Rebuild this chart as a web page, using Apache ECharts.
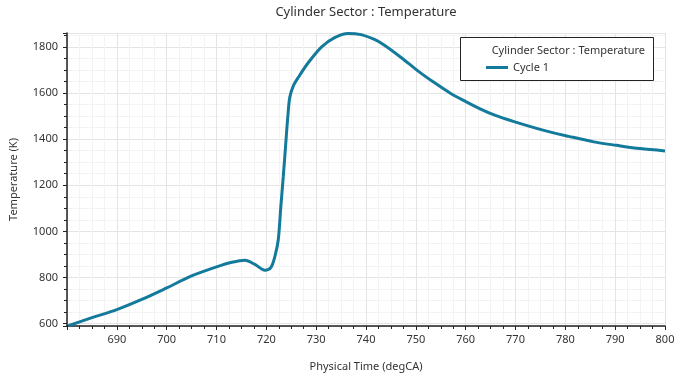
<!DOCTYPE html>
<html>
<head>
<meta charset="utf-8">
<script src="https://cdn.jsdelivr.net/npm/echarts@6/dist/echarts.min.js"></script>
<style>
  html, body { margin: 0; padding: 0; background: #fff; }
  #chart { width: 680px; height: 377px; }
</style>
</head>
<body>
<div id="chart"></div>
<script>
// crank angle (degCA)
const timeDeg = [680.3, 685, 690, 695, 700, 705, 710, 713.1, 715.7, 717.7, 719.7, 720.9, 721.7, 722.4, 722.9,
  723.4, 723.9, 724.3, 724.7, 725.4, 726.4, 728.4, 731.1, 733.7, 736.4, 739.0, 741.7, 743.7, 747.1,
  750.4, 753.7, 757, 760, 763, 765.7, 769.7, 775.7, 780.7, 785.7, 790.3, 795, 800]
// temperature (K)
const tempK = [591, 626, 661, 705, 755, 807, 846, 866, 875, 857, 832, 843, 890, 965, 1105,
  1237, 1381, 1495, 1581, 1630, 1667, 1731, 1800, 1840, 1858, 1853, 1832, 1807, 1753,
  1696, 1645, 1598, 1563, 1530, 1505, 1476, 1438, 1412, 1388, 1373, 1359, 1349]

const seriesName = 'Cycle 1'
const chartTitle = 'Cylinder Sector : Temperature'
const lineColor = '#137a9c'
const font = "'Noto Sans', 'Open Sans', sans-serif"

let chart = echarts.init(document.getElementById('chart'))
chart.setOption({
  animation: false,
  grid: {
    left: 66,
    right: 15,
    top: 33,
    bottom: 50
  },
  graphic: [
    {
      type: 'text',
      x: 366,
      y: 12,
      style: { text: chartTitle, fill: '#333', font: '13px ' + font, align: 'center', verticalAlign: 'middle' }
    },
    {
      type: 'rect',
      z: 10,
      shape: { x: 460.5, y: 37.5, width: 193, height: 43 },
      style: { fill: '#fff', stroke: '#222', lineWidth: 1 }
    },
    {
      type: 'text',
      z: 11,
      x: 645,
      y: 50.5,
      style: { text: chartTitle, fill: '#333', font: '11px ' + font, align: 'right', verticalAlign: 'middle' }
    }
  ],
  legend: {
    data: [seriesName],
    left: 486,
    top: 62,
    padding: 0,
    z: 12,
    icon: 'rect',
    itemWidth: 22,
    itemHeight: 3,
    textStyle: { color: '#333', fontSize: 11, fontFamily: font }
  },
  xAxis: {
    type: 'value',
    min: 680,
    max: 800,
    interval: 10,
    name: 'Physical Time (degCA)',
    nameLocation: 'middle',
    nameGap: 35,
    nameTextStyle: { color: '#333', fontSize: 11, fontFamily: font },
    axisLine: { onZero: false, lineStyle: { color: '#222', width: 1.5 } },
    axisTick: { show: true, length: 4, lineStyle: { color: '#222' } },
    minorTick: { show: true, splitNumber: 4, length: 3, lineStyle: { color: '#222' } },
    axisLabel: { color: '#333', fontSize: 11, fontFamily: font, margin: 8, showMinLabel: false, formatter: v => String(v) },
    splitLine: { show: true, lineStyle: { color: '#e4e4e4' } },
    minorSplitLine: { show: true, lineStyle: { color: '#f3f3f3' } }
  },
  yAxis: {
    type: 'value',
    min: 590,
    max: 1860,
    splitNumber: 6,
    name: 'Temperature (K)',
    nameLocation: 'middle',
    nameGap: 48,
    nameTextStyle: { color: '#333', fontSize: 11, fontFamily: font },
    axisLine: { show: true, onZero: false, lineStyle: { color: '#222', width: 1.5 } },
    axisTick: { show: true, length: 4, lineStyle: { color: '#222' } },
    minorTick: { show: true, splitNumber: 4, length: 3, lineStyle: { color: '#222' } },
    axisLabel: { color: '#333', fontSize: 11, fontFamily: font, margin: 9, showMinLabel: false, showMaxLabel: false, formatter: v => String(v) },
    splitLine: { show: true, lineStyle: { color: '#e4e4e4' } },
    minorSplitLine: { show: true, lineStyle: { color: '#f3f3f3' } }
  },
  series: [
    {
      name: seriesName,
      type: 'line',
      data: timeDeg.map((t, i) => [t, tempK[i]]),
      showSymbol: false,
      smooth: 0.3,
      clip: false,
      itemStyle: { color: lineColor },
      lineStyle: { color: lineColor, width: 3 }
    }
  ]
})
</script>
</body>
</html>
